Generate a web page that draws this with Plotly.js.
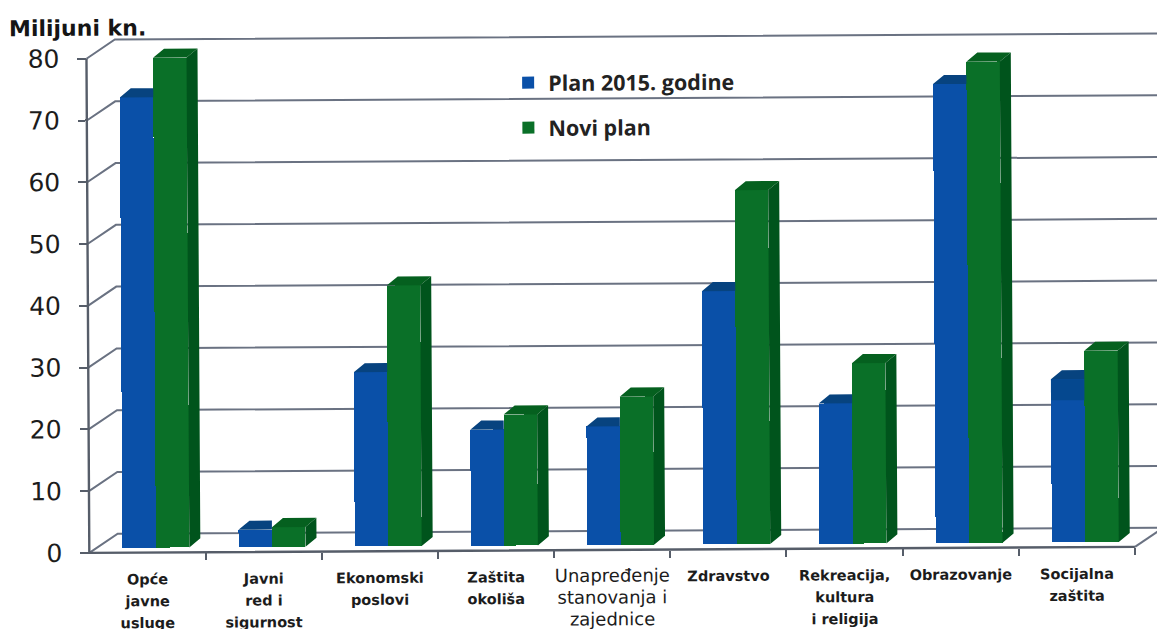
<!DOCTYPE html>
<html><head><meta charset="utf-8">
<script src="https://cdn.plot.ly/plotly-3.0.1.min.js"></script>
<style>
html,body{margin:0;padding:0;background:#fff;overflow:hidden;width:1157px;height:629px}
#chart{width:1200px;height:700px;transform:rotate(-0.33deg);transform-origin:89px 553px}
</style></head><body><div id="chart"></div>
<script>
const categories = ['Opće<br>javne<br>usluge','Javni<br>red i<br>sigurnost','Ekonomski<br>poslovi','Zaštita<br>okoliša','Unapređenje<br>stanovanja i<br>zajednice','Zdravstvo','Rekreacija,<br>kultura<br>i religija','Obrazovanje','Socijalna<br>zaštita'];
const plan2015 = [72.9, 2.8, 28.2, 18.8, 19.2, 41, 22.7, 74.3, 26.4];
const noviPlan = [79.3, 3.2, 42.2, 21.2, 24, 57.3, 29.2, 77.9, 31];
const yTicks = [0,10,20,30,40,50,60,70,80];
const xBoundaries = [0.5,1.5,2.5,3.5,4.5,5.5,6.5,7.5,8.5];
const seriesNames = ['Plan 2015. godine','Novi plan'];

const wallDx = 0.245, wallDy = 3.08;      // depth of the chart's back wall
const barBase = 0.8, barDx = 0.095, barDy = 1.46; // bar inset and extrusion
const barW = 0.288, blueOff = -0.215, greenOff = 0.073;
const xMin = -0.5, xMax = 8.5, yMax = 80;
const xr = [-0.52, 8.75], yr = [-0.5, 84];
const idx = categories.map((_, i) => i);

// back wall grid and the two front axis lines
let gx = [], gy = [];
yTicks.forEach(v => {
  gx.push(xMin, xMin + wallDx, xMax + wallDx, null);
  gy.push(v, v + wallDy, v + wallDy, null);
});
gx.push(xMax, xMax + wallDx, null); gy.push(0, wallDy, null);
const grid = {x: gx, y: gy, mode: 'lines', line: {color: '#6a7282', width: 2}, showlegend: false, hoverinfo: 'skip'};
const axes = {x: [xMin, xMin, xMax], y: [yMax, 0, 0], mode: 'lines', line: {color: '#565d69', width: 2.4}, showlegend: false, hoverinfo: 'skip'};

function poly(build, color) {
  let x = [], y = [];
  idx.forEach(i => { const p = build(i); p.forEach(q => { x.push(q[0]); y.push(q[1]); }); x.push(null); y.push(null); });
  return {x, y, xaxis: 'x2', yaxis: 'y2', mode: 'lines', fill: 'toself', fillcolor: color, line: {width: 0, color: color}, showlegend: false, hoverinfo: 'skip'};
}
const bar = (vals, off, color, name) => ({type: 'bar', x: idx, y: vals, base: idx.map(() => barBase), width: barW, offset: off, name: name, legendgroup: name,
  marker: {color: color, line: {width: 0}}, xaxis: 'x2', yaxis: 'y2'});

const blueTop = poly(i => { const t = plan2015[i] + barBase, l = i + blueOff, r = i + greenOff;
  return [[l, t], [l + barDx, t + barDy], [r, t + barDy], [r, t]]; }, '#07437f');
const greenTop = poly(i => { const t = noviPlan[i] + barBase, l = i + greenOff, r = l + barW;
  return [[l, t], [l + barDx, t + barDy], [r + barDx, t + barDy], [r, t]]; }, '#05601f');
const greenSide = poly(i => { const t = noviPlan[i] + barBase, r = i + greenOff + barW;
  return [[r, barBase], [r + barDx, barBase + barDy], [r + barDx, t + barDy], [r, t]]; }, '#00541c');
// darker scanned patch on the top of the last blue bar
const patchLow = 23.8, patchBar = 8;
const patch = {x: [patchBar + blueOff, patchBar + greenOff, patchBar + greenOff, patchBar + blueOff], y: [patchLow, patchLow, plan2015[patchBar] + barBase, plan2015[patchBar] + barBase],
  xaxis: 'x2', yaxis: 'y2', mode: 'lines', fill: 'toself', fillcolor: '#05488f', line: {width: 0, color: '#05488f'}, showlegend: false, hoverinfo: 'skip'};

const font = 'DejaVu Sans, sans-serif';
const tickText = categories.map((c, i) => {
  const style = i === 4 ? 'font-size:18px' : 'font-size:14.5px;font-weight:bold';
  return c.split('<br>').map(s => `<span style="${style}">${s}</span>`).join('<br>');
});

const pxX = 1046 / 9, pxY = 494 / 80;
const layout = {
  width: 1200, height: 700, paper_bgcolor: '#fff', plot_bgcolor: 'rgba(0,0,0,0)',
  margin: {l: 89 + (xr[0] - xMin) * pxX, r: 1200 - (1135 + (xr[1] - xMax) * pxX), t: 553 - yr[1] * pxY, b: 700 - (553 - yr[0] * pxY), pad: 0},
  barmode: 'overlay', bargap: 0,
  title: {text: '<b>Milijuni kn.</b>', x: 12 / 1200, xanchor: 'left', xref: 'container', y: 1 - 28 / 700, yanchor: 'middle', yref: 'container', font: {family: font, size: 22, color: '#151515'}},
  xaxis: {range: xr, anchor: 'free', position: (0 - yr[0]) / (yr[1] - yr[0]), tickmode: 'array', tickvals: idx, ticktext: tickText, ticks: '', ticklabelstandoff: 14, showgrid: false, zeroline: false,
    showline: false, tickfont: {family: font, size: 16.8, color: '#1c1c1c'}, tickangle: 0,
    minor: {tickmode: 'array', tickvals: xBoundaries, ticks: 'outside', ticklen: 7, tickwidth: 2, tickcolor: '#565d69', showgrid: false}},
  yaxis: {range: yr, anchor: 'free', position: (xMin - xr[0]) / (xr[1] - xr[0]), tickmode: 'array', tickvals: yTicks, ticks: 'outside', ticklen: 9, tickwidth: 2, tickcolor: '#565d69', showgrid: false, zeroline: false,
    showline: false, ticklabelstandoff: 13, tickfont: {family: font, size: 25, color: '#1c1c1c'}},
  xaxis2: {range: xr, overlaying: 'x', anchor: 'y2', visible: false},
  yaxis2: {range: yr, overlaying: 'y', anchor: 'x2', visible: false},
  showlegend: true,
  legend: {x: (513 - 89) / 1077.4, xanchor: 'left', y: 0.5, yanchor: 'top', yref: 'paper', bgcolor: 'rgba(0,0,0,0)', traceorder: 'grouped', tracegroupgap: 14,
    font: {family: 'Open Sans, sans-serif', size: 21.5, color: '#222', weight: 700}}
};
layout.legend.y = (553 - yr[0] * pxY - 65) / ((yr[1] - yr[0]) * pxY);
const traces = [grid, axes, bar(plan2015, blueOff, '#0a50a8', seriesNames[0]), blueTop, patch, bar(noviPlan, greenOff, '#0a7028', seriesNames[1]), greenTop, greenSide];
Plotly.newPlot('chart', traces, layout, {displayModeBar: false, staticPlot: true});
</script></body></html>
